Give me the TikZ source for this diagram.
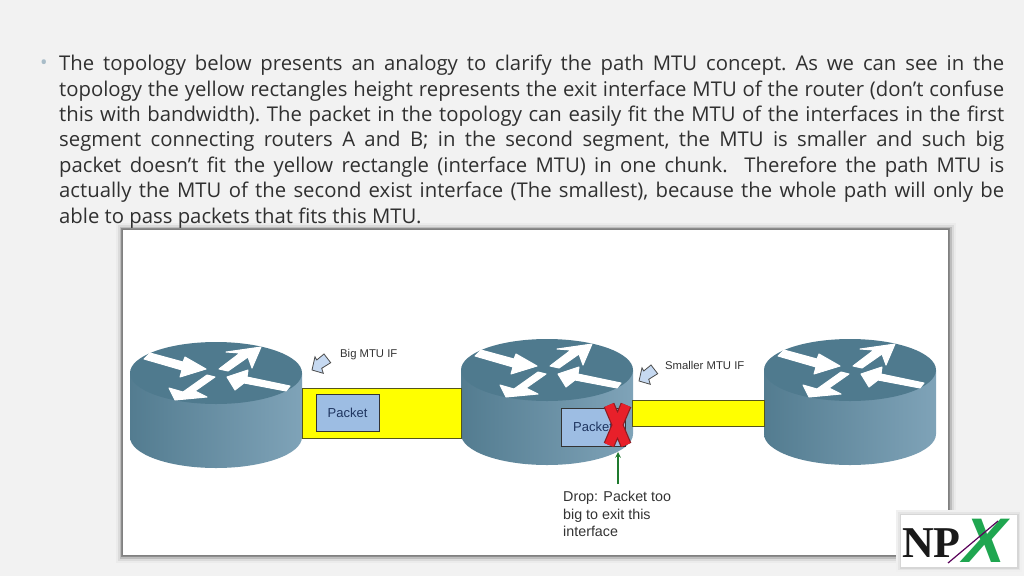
\documentclass[tikz,border=0pt]{standalone}
\usepackage{fontspec}
\setmainfont{Open Sans}
\newfontfamily\labelfont{Liberation Sans}
\newfontfamily\logofont{Liberation Serif}
\definecolor{slide}{HTML}{F2F2F2}
\definecolor{bodytext}{HTML}{303030}
\definecolor{bulletgray}{HTML}{A8BCC8}
\definecolor{routertop}{HTML}{4F7A8E}
\definecolor{routerdark}{HTML}{537C90}
\definecolor{routerlight}{HTML}{7FA3B8}
\definecolor{linkyellow}{HTML}{FFFF00}
\definecolor{linkedge}{HTML}{55551A}
\definecolor{packetblue}{HTML}{9DBDE3}
\definecolor{packettext}{HTML}{1F3560}
\definecolor{calloutblue}{HTML}{C6D9F1}
\definecolor{crossred}{HTML}{E8202A}
\definecolor{crossedge}{HTML}{8E1C22}
\definecolor{dropgreen}{HTML}{1F7A2E}
\definecolor{logogreen}{HTML}{1FA650}
\begin{document}
\begin{tikzpicture}[x=1pt,y=-1pt,
  router/.pic={
    \path[left color=routerdark,right color=routerlight] (-86,0) -- (-86,64)
      arc[start angle=180,end angle=0,x radius=86,y radius=31] -- (86,0) -- cycle;
    \fill[routertop] (0,0) ellipse[x radius=86,y radius=31];
    \begin{scope}[draw=white,fill=white,line width=1pt,line join=round]
    \filldraw (-72,-14) -- (-66,-20) -- (-33,-11) -- (-31,-16) -- (-10,-4) -- (-36,4) -- (-34,-3) -- cycle;
    \filldraw (3,-4) -- (24,-20) -- (10,-21) -- (45,-26) -- (36,-5) -- (32,-16) -- (12,-2) -- cycle;
    \filldraw (11,4) -- (32,-3) -- (31,4) -- (74,13) -- (70,18) -- (28,10) -- (19,17) -- cycle;
    \filldraw (-1,4) -- (-21,18) -- (-9,24) -- (-41,27) -- (-47,15) -- (-33,19) -- (-9,2) -- cycle;
    \end{scope}
  },
  ifarrow/.pic={
    \draw[draw=black!70,fill=calloutblue,line width=0.8pt] (0,0) -- (11.3,3.3) -- (9.7,-1.7)
      -- (18.7,-7.3) -- (12,-16) -- (4.7,-10) -- (3,-13.3) -- cycle;
  },
  link/.style={draw=linkedge,fill=linkyellow,line width=1pt,inner sep=0pt},
  packet/.style={draw=black!80,fill=packetblue,line width=1pt,inner sep=0pt,
    font=\labelfont\fontsize{13}{15}\selectfont,text=packettext},
  iflabel/.style={font=\labelfont\fontsize{11.3}{13}\selectfont,text=black!80,inner sep=0pt,anchor=west},
  cross/.style={draw=crossedge,double=crossred,double distance=9pt,line width=1.2pt}]
  \useasboundingbox (0,0) rectangle (1024,576);
  \fill[slide] (0,0) rectangle (1024,576);
  \foreach \grow/\shade in {7/8,5/14,3/26,1.5/45}
    \fill[black!\shade] (122.5-\grow,229.5-\grow) rectangle (948.5+\grow,555.5+\grow);
  \node[text=bulletgray,inner sep=0pt] (bullet) at (44,65) {\fontsize{20}{20}\selectfont •};
  \node[anchor=north west,inner sep=0pt,text width=945pt,align=justify,text=bodytext,
    font=\frenchspacing\fontsize{20.3}{25.4}\selectfont] (body) at (59,55) {The topology below presents an analogy to clarify the path MTU concept. As we can see in the\linebreak
    topology the yellow rectangles height represents the exit interface MTU of the router (don’t confuse\linebreak
    this with bandwidth). The packet in the topology can easily fit the MTU of the interfaces in the first\linebreak
    segment connecting routers A and B; in the second segment, the MTU is smaller and such big\linebreak
    packet doesn’t fit the yellow rectangle (interface MTU) in one chunk.\ \ Therefore the path MTU is\linebreak
    actually the MTU of the second exist interface (The smallest), because the whole path will only be\linebreak
    able to pass packets that fits this MTU.};
  \node[draw=black!50,fill=white,line width=1pt,minimum width=826pt,minimum height=326pt,inner sep=0pt] (panel) at (535.5,392.5) {};
  \pic (ra) at (216,373) {router};
  \pic (rb) at (547,370) {router};
  \pic (rc) at (850,370) {router};
  \node[link,minimum width=159pt,minimum height=50pt] (bigif) at (381.5,413) {};
  \node[link,minimum width=132pt,minimum height=26pt] (smallif) at (698,413) {};
  \node[packet,minimum width=63pt,minimum height=37pt] (packeta) at (347.5,412.5) {Packet};
  \node[packet,minimum width=64pt,minimum height=38pt] (packetb) at (593,427) {Packet};
  \draw[cross] (609,405) -- (626,445) (626,405) -- (609,445);
  \pic (ifa) at (312,370) {ifarrow};
  \node[iflabel] (biglabel) at (340,355) {Big MTU IF};
  \pic (ifb) at (639,381) {ifarrow};
  \node[iflabel] (smalllabel) at (665,365) {Smaller MTU IF};
  \node[anchor=north west,inner sep=0pt,align=left,text=black!80,
    font=\labelfont\fontsize{14.3}{17.5}\selectfont] (drop) at (563,491) {Drop: Packet too\\big to exit this\\interface};
  \coordinate (droptip) at (618,452);
  \draw[->,dropgreen,line width=1.5pt,>=stealth] (618,484) -- (droptip);
  \foreach \grow/\shade in {5/6,3/10,1.5/16}
    \fill[black!\shade] (901-\grow,515-\grow) rectangle (1017+\grow,567+\grow);
  \node[fill=white,minimum width=116pt,minimum height=52pt,inner sep=0pt] (logo) at (959,541) {};
  \node[anchor=west,inner sep=0pt,text=black!90,font=\logofont\bfseries\fontsize{44}{44}\selectfont] (np) at (902,543) {NP};
  \node[inner sep=0pt,text=logogreen,font=\labelfont\bfseries\fontsize{63}{63}\selectfont,xslant=0.25] (xmark) at (986,541) {X};
  \draw[draw=violet!70!black,line width=1.2pt] (948,563) -- (998,521);
\end{tikzpicture}
\end{document}
